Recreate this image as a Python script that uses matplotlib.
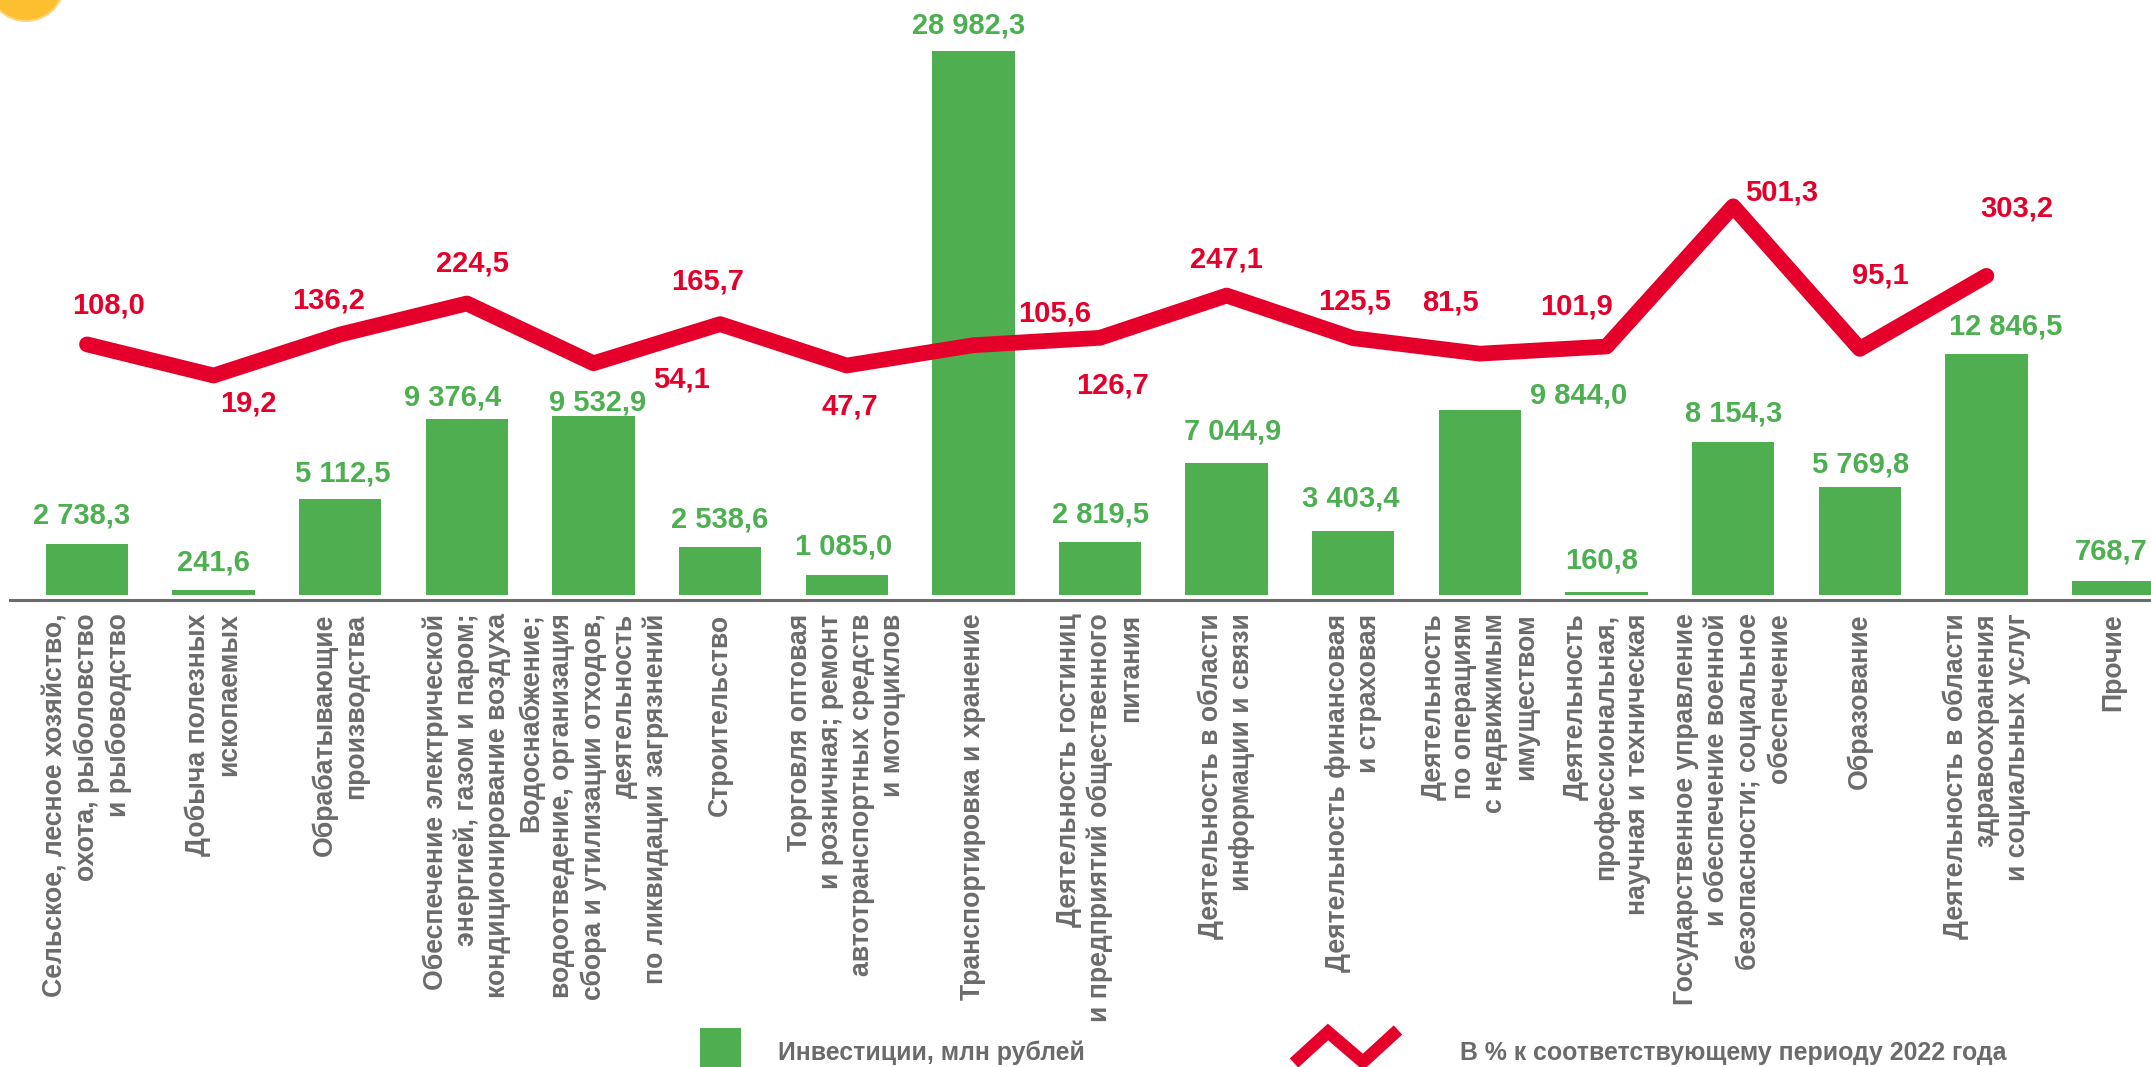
import matplotlib
matplotlib.use("Agg")
import matplotlib.pyplot as plt
from matplotlib.patches import Circle, Rectangle

plt.rcParams['font.family'] = ['Liberation Sans', 'DejaVu Sans']
plt.rcParams['font.weight'] = 'bold'

# --- Data ---
CATEGORIES = [
    "Сельское, лесное хозяйство,\nохота, рыболовство\nи рыбоводство",
    "Добыча полезных\nископаемых",
    "Обрабатывающие\nпроизводства",
    "Обеспечение электрической\nэнергией, газом и паром;\nкондиционирование воздуха",
    "Водоснабжение;\nводоотведение, организация\nсбора и утилизации отходов,\nдеятельность\nпо ликвидации загрязнений",
    "Строительство",
    "Торговля оптовая\nи розничная; ремонт\nавтотранспортных средств\nи мотоциклов",
    "Транспортировка и хранение",
    "Деятельность гостиниц\nи предприятий общественного\nпитания",
    "Деятельность в области\nинформации и связи",
    "Деятельность финансовая\nи страховая",
    "Деятельность\nпо операциям\nс недвижимым\nимуществом",
    "Деятельность\nпрофессиональная,\nнаучная и техническая",
    "Государственное управление\nи обеспечение военной\nбезопасности; социальное\nобеспечение",
    "Образование",
    "Деятельность в области\nздравоохранения\nи социальных услуг",
    "Прочие",
]
INVESTMENTS = [2738.3, 241.6, 5112.5, 9376.4, 9532.9, 2538.6, 1085.0, 28982.3, 2819.5,
               7044.9, 3403.4, 9844.0, 160.8, 8154.3, 5769.8, 12846.5, 768.7]
PERCENT = [108.0, 19.2, 136.2, 224.5, 54.1, 165.7, 47.7, 105.6, 126.7,
           247.1, 125.5, 81.5, 101.9, 501.3, 95.1, 303.2]

LEGEND_BAR = "Инвестиции, млн рублей"
LEGEND_LINE = "В % к соответствующему периоду 2022 года"

# label offsets from the mark, in pixels
BAR_LABEL_OFFSETS = [(-5, 28), (0, 28), (3, 26), (-14, 22), (4, 14), (0, 28), (-3, 28), (-5, 26), (0, 28),
                     (6, 31), (-3, 33), (99, 15), (-5, 31), (0, 28), (1, 22), (19, 27), (-2, 29)]
LINE_LABEL_OFFSETS = [(22, 39), (35, -28), (-12, 34), (6, 40), (88, -16), (-13, 43), (3, -41), (81, 32),
                      (12, -48), (0, 36), (1, 37), (-29, 51), (-30, 40), (48, 14), (21, 73), (30, 67)]

# --- Constants ---
W, H = 2151, 1067
GREEN = '#4FAF50'
GREEN_TEXT = '#4CB050'
RED = '#E4002B'
GREY = '#6B6B6B'
BAR_BOTTOM_PX = 595
LEFT_PX = 10


def fmt(v):
    return f"{v:,.1f}".replace(",", " ").replace(".", ",")


def main():
    fig = plt.figure(figsize=(W / 100, H / 100), dpi=100, facecolor='white')

    # left, bottom, width, height from pixel positions
    ax = fig.add_axes([LEFT_PX / W, (H - BAR_BOTTOM_PX) / H, (W - LEFT_PX) / W, BAR_BOTTOM_PX / H])
    ax.patch.set_alpha(0)

    x = list(range(len(CATEGORIES)))
    ax.bar(x, INVESTMENTS, width=0.65, color=GREEN)
    for s in ['top', 'left', 'right']:
        ax.spines[s].set_visible(False)
    ax.spines['bottom'].set_position(('outward', 3.3))
    ax.spines['bottom'].set_color(GREY)
    ax.spines['bottom'].set_linewidth(2.2)

    for i, v in enumerate(INVESTMENTS):
        ax.annotate(fmt(v), (i, v), xytext=BAR_LABEL_OFFSETS[i], textcoords='offset pixels',
                    ha='center', va='center', fontsize=21, color=GREEN_TEXT, annotation_clip=False)

    ax2 = ax.twinx()
    ax2.patch.set_alpha(0)
    ax2.plot(x[:len(PERCENT)], PERCENT, color=RED, lw=11.3, solid_capstyle='round', solid_joinstyle='round')
    ax2.set_ylim(-606, 1089)
    ax2.set_yticks([])
    for s in ax2.spines.values():
        s.set_visible(False)
    for i, v in enumerate(PERCENT):
        ax2.annotate(fmt(v), (i, v), xytext=LINE_LABEL_OFFSETS[i], textcoords='offset pixels',
                     ha='center', va='center', fontsize=21, color=RED, annotation_clip=False)

    # twinx resets the shared x axis, so its ticks go last
    ax.set_xlim(-0.608, 16.30)
    ax.set_ylim(0, 31700)
    ax.set_yticks([])
    ax.set_xticks(x)
    ax.set_xticklabels(CATEGORIES, rotation=90, ha='center', va='top', ma='right',
                       fontsize=19.2, color=GREY, linespacing=1.25)
    ax.tick_params(axis='x', length=0, pad=10)

    # overlay in pixels for the legend and the corner badge
    over = fig.add_axes([0, 0, 1, 1])
    over.set_xlim(0, W)
    over.set_ylim(H, 0)
    over.axis('off')
    over.add_patch(Circle((26, -17), 38, facecolor='#FBBF30', edgecolor='#FDD77F', lw=1.5))
    over.add_patch(Rectangle((700, 1028), 41, 39, facecolor=GREEN, edgecolor='none'))
    over.plot([1294, 1328, 1363, 1398], [1063, 1032, 1062, 1030], color=RED, lw=9,
              solid_capstyle='butt', solid_joinstyle='miter')
    over.text(778, 1053, LEGEND_BAR, fontsize=17.9, color=GREY, va='center', ha='left')
    over.text(1460, 1053, LEGEND_LINE, fontsize=17.9, color=GREY, va='center', ha='left')

    fig.savefig('out.png', dpi=100)


if __name__ == "__main__":
    main()
